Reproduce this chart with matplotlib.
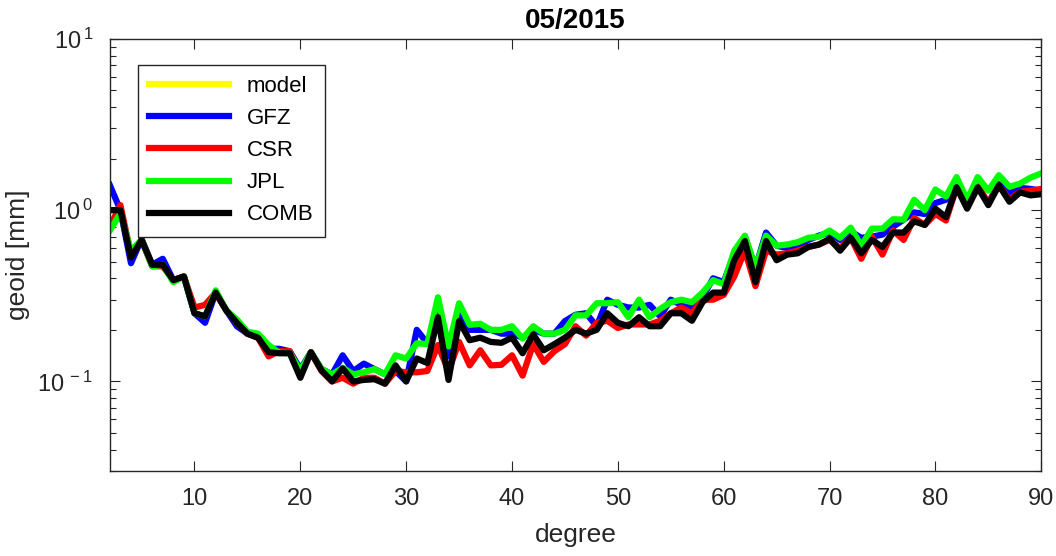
import matplotlib
matplotlib.use('Agg')
import matplotlib.pyplot as plt
from matplotlib.ticker import FuncFormatter
import numpy as np

plt.rcParams['font.family'] = ['Liberation Sans', 'DejaVu Sans']
plt.rcParams['mathtext.fontset'] = 'custom'
plt.rcParams['mathtext.rm'] = 'Liberation Sans'

# spherical harmonic degree 2..90
degree = list(range(2, 91))

# model curve is not visible in the picture (only in the legend)
model = []

gfz = [1.40, 1.0, 0.49, 0.68, 0.48, 0.52, 0.39, 0.41, 0.25, 0.22,
       0.33, 0.26, 0.21, 0.19, 0.18, 0.155, 0.155, 0.15, 0.118, 0.148,
       0.118, 0.11, 0.142, 0.115, 0.127, 0.118, 0.11, 0.115, 0.10, 0.2,
       0.167, 0.26, 0.14, 0.25, 0.2, 0.2, 0.2, 0.19, 0.19, 0.18,
       0.2, 0.19, 0.19, 0.225, 0.245, 0.25, 0.21, 0.30, 0.28, 0.27,
       0.27, 0.28, 0.24, 0.30, 0.28, 0.27, 0.31, 0.40, 0.38, 0.56,
       0.70, 0.46, 0.74, 0.62, 0.60, 0.62, 0.67, 0.71, 0.74, 0.67,
       0.75, 0.69, 0.70, 0.72, 0.80, 0.88, 0.97, 0.95, 1.1, 1.15,
       1.4, 1.05, 1.38, 1.1, 1.42, 1.25, 1.35, 1.33, 1.3]

csr = [0.8, 1.07, 0.55, 0.67, 0.47, 0.47, 0.39, 0.41, 0.27, 0.28,
       0.33, 0.26, 0.22, 0.19, 0.18, 0.14, 0.15, 0.15, 0.112, 0.148,
       0.115, 0.10, 0.105, 0.097, 0.105, 0.105, 0.097, 0.115, 0.113, 0.113,
       0.115, 0.163, 0.115, 0.17, 0.124, 0.152, 0.124, 0.125, 0.142, 0.108,
       0.165, 0.13, 0.15, 0.165, 0.21, 0.185, 0.22, 0.226, 0.205, 0.215,
       0.215, 0.215, 0.226, 0.25, 0.27, 0.25, 0.30, 0.30, 0.32, 0.41,
       0.58, 0.36, 0.58, 0.55, 0.56, 0.58, 0.61, 0.63, 0.67, 0.60,
       0.69, 0.52, 0.70, 0.55, 0.76, 0.67, 0.90, 0.82, 0.95, 0.87,
       1.36, 1.05, 1.38, 1.1, 1.4, 1.15, 1.28, 1.3, 1.33]

jpl = [0.76, 0.96, 0.58, 0.67, 0.47, 0.48, 0.38, 0.41, 0.25, 0.24,
       0.34, 0.26, 0.23, 0.195, 0.19, 0.163, 0.147, 0.146, 0.116, 0.148,
       0.118, 0.11, 0.12, 0.11, 0.113, 0.118, 0.11, 0.142, 0.136, 0.167,
       0.165, 0.31, 0.16, 0.286, 0.214, 0.217, 0.2, 0.2, 0.21, 0.178,
       0.21, 0.19, 0.19, 0.2, 0.243, 0.243, 0.286, 0.286, 0.29, 0.237,
       0.30, 0.237, 0.265, 0.29, 0.30, 0.29, 0.33, 0.39, 0.37, 0.58,
       0.71, 0.46, 0.71, 0.62, 0.63, 0.65, 0.69, 0.70, 0.76, 0.69,
       0.79, 0.62, 0.78, 0.78, 0.885, 0.88, 1.15, 1.0, 1.32, 1.2,
       1.56, 1.15, 1.56, 1.3, 1.6, 1.37, 1.43, 1.55, 1.64]

comb = [1.0, 1.0, 0.53, 0.67, 0.48, 0.48, 0.39, 0.41, 0.25, 0.24,
        0.33, 0.26, 0.22, 0.19, 0.18, 0.148, 0.146, 0.146, 0.105, 0.148,
        0.116, 0.10, 0.119, 0.10, 0.102, 0.103, 0.097, 0.124, 0.10, 0.136,
        0.128, 0.237, 0.102, 0.225, 0.174, 0.18, 0.17, 0.168, 0.18, 0.146,
        0.188, 0.152, 0.165, 0.18, 0.2, 0.19, 0.2, 0.25, 0.22, 0.21,
        0.237, 0.21, 0.21, 0.25, 0.25, 0.226, 0.29, 0.33, 0.33, 0.51,
        0.66, 0.38, 0.66, 0.51, 0.55, 0.56, 0.61, 0.63, 0.68, 0.58,
        0.69, 0.56, 0.67, 0.61, 0.74, 0.74, 0.86, 0.82, 1.02, 0.91,
        1.36, 1.02, 1.36, 1.07, 1.4, 1.12, 1.27, 1.22, 1.24]

x_ticks = [10, 20, 30, 40, 50, 60, 70, 80, 90]
y_ticks = [0.1, 1, 10]

fig = plt.figure(figsize=(10.56, 5.56), dpi=100)
ax = fig.add_axes([0.104, 0.153, 0.882, 0.777])

lw = 4.5
ax.plot([], [], color='#FFFF00', lw=lw, label='model')
ax.plot(degree, gfz, color='#0000FF', lw=lw, label='GFZ')
ax.plot(degree, csr, color='#FF0000', lw=lw, label='CSR')
ax.plot(degree, jpl, color='#00FF00', lw=lw, label='JPL')
ax.plot(degree, comb, color='#000000', lw=lw, label='COMB')

ax.set_yscale('log')
ax.set_xlim(2, 90)
ax.set_ylim(0.03, 10)
ax.set_xticks(x_ticks)
ax.set_yticks(y_ticks)


def pow10(v, pos):
    e = int(round(np.log10(v)))
    return r'$\mathregular{10^{\,%d}}$' % e


ax.yaxis.set_major_formatter(FuncFormatter(pow10))

grey = '#262626'
for s in ax.spines.values():
    s.set_color(grey)
    s.set_linewidth(1.0)
ax.tick_params(which='both', direction='in', top=True, right=True,
               colors=grey, labelsize=17, width=0.8)
ax.tick_params(which='major', length=7)
ax.tick_params(which='minor', length=4)
ax.tick_params(axis='x', pad=12)
ax.tick_params(axis='y', pad=12)

ax.set_xlabel('degree', fontsize=19, color=grey)
ax.set_ylabel('geoid [mm]', fontsize=19, color=grey)
ax.xaxis.set_label_coords(0.5, -0.12)
ax.yaxis.set_label_coords(-0.086, 0.5)
ax.set_title('05/2015', fontsize=20, fontweight='bold', pad=8)

leg = ax.legend(loc='upper left', bbox_to_anchor=(0.03, 0.94), fontsize=16,
                handlelength=3.6, labelspacing=0.5, borderpad=0.5,
                fancybox=False, framealpha=1, borderaxespad=0)
leg.get_frame().set_edgecolor('#262626')
leg.get_frame().set_linewidth(1.0)
for line in leg.get_lines():
    line.set_linewidth(4.5)

fig.savefig('out.png', dpi=100)
